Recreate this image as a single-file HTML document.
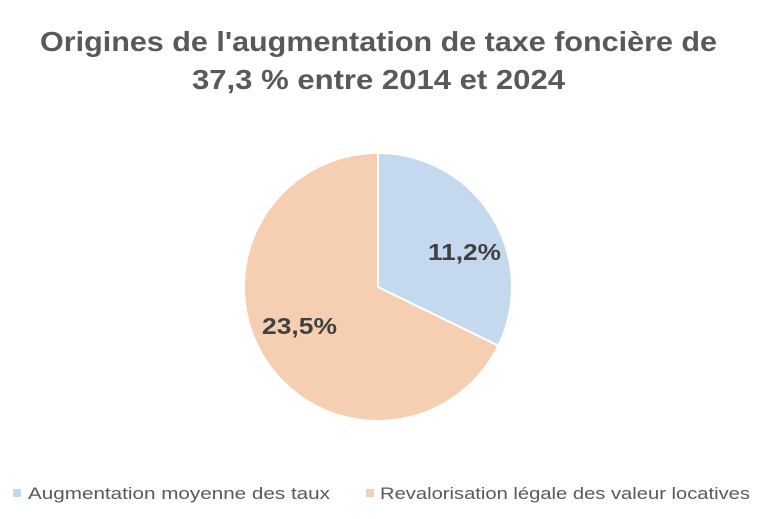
<!DOCTYPE html>
<html><head><meta charset="utf-8"><style>
body{margin:0;width:770px;height:514px;background:#fff;overflow:hidden;font-family:"Liberation Sans",sans-serif}
</style></head><body>
<svg width="770" height="514" xmlns="http://www.w3.org/2000/svg">
<text x="40" y="51" font-size="28" font-weight="bold" fill="#595959" textLength="677" lengthAdjust="spacingAndGlyphs">Origines de l'augmentation de taxe foncière de</text>
<text x="192" y="89" font-size="28" font-weight="bold" fill="#595959" textLength="373" lengthAdjust="spacingAndGlyphs">37,3 % entre 2014 et 2024</text>
<path d="M378,287 L378,153 A134,134 0 0 1 498.4,345.7 Z" fill="#c5d9ee" stroke="#fff" stroke-width="2"/>
<path d="M378,287 L498.4,345.7 A134,134 0 1 1 378,153 Z" fill="#f6cfb2" stroke="#fff" stroke-width="2"/>
<text x="428" y="260" font-size="23" font-weight="bold" fill="#404040" textLength="73" lengthAdjust="spacingAndGlyphs">11,2%</text>
<text x="262" y="334" font-size="23" font-weight="bold" fill="#404040" textLength="75" lengthAdjust="spacingAndGlyphs">23,5%</text>
<rect x="13" y="489" width="8" height="8" fill="#c5d9ee"/>
<text x="28" y="499" font-size="17" fill="#595959" textLength="302" lengthAdjust="spacingAndGlyphs">Augmentation moyenne des taux</text>
<rect x="366" y="489" width="8" height="8" fill="#f6cfb2"/>
<text x="380" y="499" font-size="17" fill="#595959" textLength="370" lengthAdjust="spacingAndGlyphs">Revalorisation légale des valeur locatives</text>
</svg>
</body></html>
